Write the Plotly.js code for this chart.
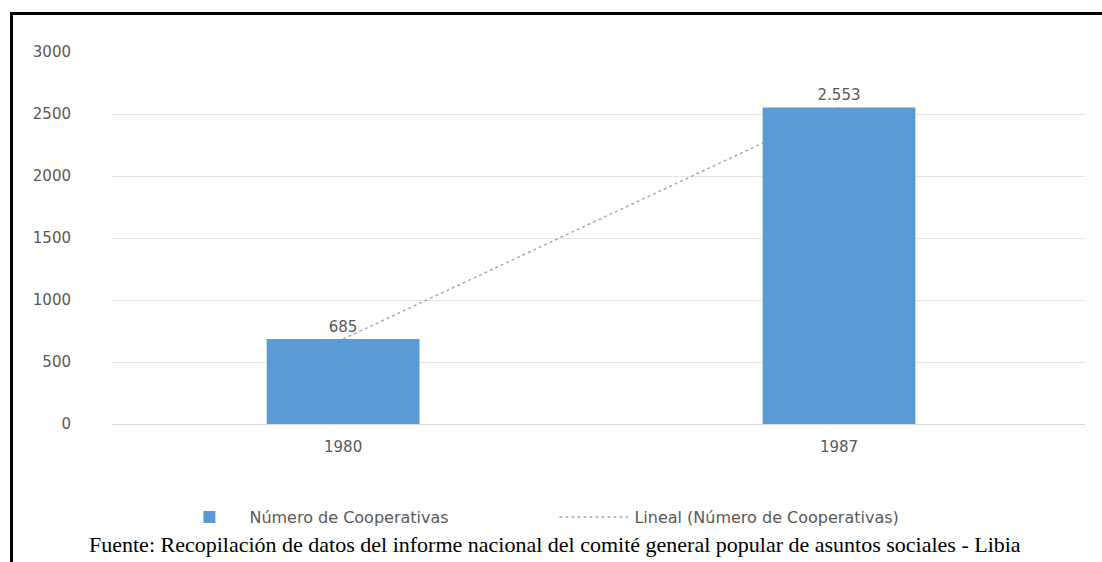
<!DOCTYPE html>
<html>
<head>
<meta charset="utf-8">
<script src="https://cdn.plot.ly/plotly-3.0.1.min.js"></script>
<style>
  html, body { margin: 0; padding: 0; background: #ffffff; width: 1102px; height: 562px; overflow: hidden; }
  #frame { position: absolute; left: 10px; top: 12px; border-left: 3px solid #000; border-top: 3px solid #000; }
  #chart { width: 1089px; height: 547px; }
</style>
</head>
<body>
<div id="frame"><div id="chart"></div></div>
<script>
// Data
const years = ["1980", "1987"];
const cooperativas = [685, 2553];
const seriesName = "Número de Cooperativas";
const trendName = "Lineal (Número de Cooperativas)";
const yTicks = [0, 500, 1000, 1500, 2000, 2500, 3000];
const footer = "Fuente: Recopilación de datos del informe nacional del comité general popular de asuntos sociales - Libia";

// Linear trendline (least squares over category index)
const n = cooperativas.length;
const xs = cooperativas.map((_, i) => i + 1);
const mx = xs.reduce((a, b) => a + b, 0) / n;
const my = cooperativas.reduce((a, b) => a + b, 0) / n;
let num = 0, den = 0;
for (let i = 0; i < n; i++) { num += (xs[i] - mx) * (cooperativas[i] - my); den += (xs[i] - mx) ** 2; }
const slope = num / den;
const intercept = my - slope * mx;
const trend = xs.map(x => intercept + slope * x);

const gray = "#595959";
const font15 = { family: "DejaVu Sans, Verdana, sans-serif", size: 15, color: gray };

const data = [
  {
    type: "bar",
    name: seriesName,
    x: years,
    y: cooperativas,
    xaxis: "x2",
    yaxis: "y2",
    marker: { color: "#5B9BD5" },
    texttemplate: "%{y:,d}",
    textposition: "outside",
    textfont: font15,
    cliponaxis: false,
    hoverinfo: "x+y"
  },
  {
    type: "scatter",
    mode: "lines",
    name: trendName,
    x: years,
    y: trend,
    line: { color: "#9AAFC8", width: 1.5, dash: "dot" }
  }
];

const xRange = [-0.466, 1.496];

const layout = {
  width: 1089,
  height: 547,
  margin: { l: 99, r: 17, t: 37, b: 138 },
  paper_bgcolor: "#ffffff",
  plot_bgcolor: "rgba(0,0,0,0)",
  separators: ",.",
  showlegend: true,
  bargap: 0.692,
  xaxis: {
    type: "category",
    range: xRange,
    showgrid: false,
    zeroline: false,
    showline: false,
    ticks: "",
    tickfont: font15,
    ticklabelstandoff: 12
  },
  yaxis: {
    range: [0, 3000],
    tickvals: yTicks,
    tickformat: "d",
    showgrid: true,
    gridcolor: "#E4E4E4",
    gridwidth: 1,
    zeroline: true,
    zerolinecolor: "#D9D9D9",
    zerolinewidth: 1,
    showline: false,
    ticks: "",
    tickfont: font15,
    ticklabelstandoff: 40
  },
  xaxis2: {
    type: "category",
    overlaying: "x",
    range: xRange,
    visible: false
  },
  yaxis2: {
    overlaying: "y",
    range: [0, 3000],
    visible: false
  },
  legend: {
    orientation: "h",
    x: 0.059,
    xanchor: "left",
    y: -0.25,
    yanchor: "middle",
    font: { family: "DejaVu Sans, Verdana, sans-serif", size: 16, color: gray },
    traceorder: "normal",
    itemwidth: 70,
    entrywidth: 300,
    entrywidthmode: "pixels",
    bgcolor: "rgba(0,0,0,0)"
  },
  annotations: [
    {
      text: footer,
      xref: "paper",
      yref: "paper",
      x: 0.455,
      y: -0.325,
      xanchor: "center",
      yanchor: "middle",
      showarrow: false,
      font: { family: "Liberation Serif, Times New Roman, serif", size: 22, color: "#000000" }
    }
  ]
};

Plotly.newPlot("chart", data, layout, { displayModeBar: false, staticPlot: true });
</script>
</body>
</html>
